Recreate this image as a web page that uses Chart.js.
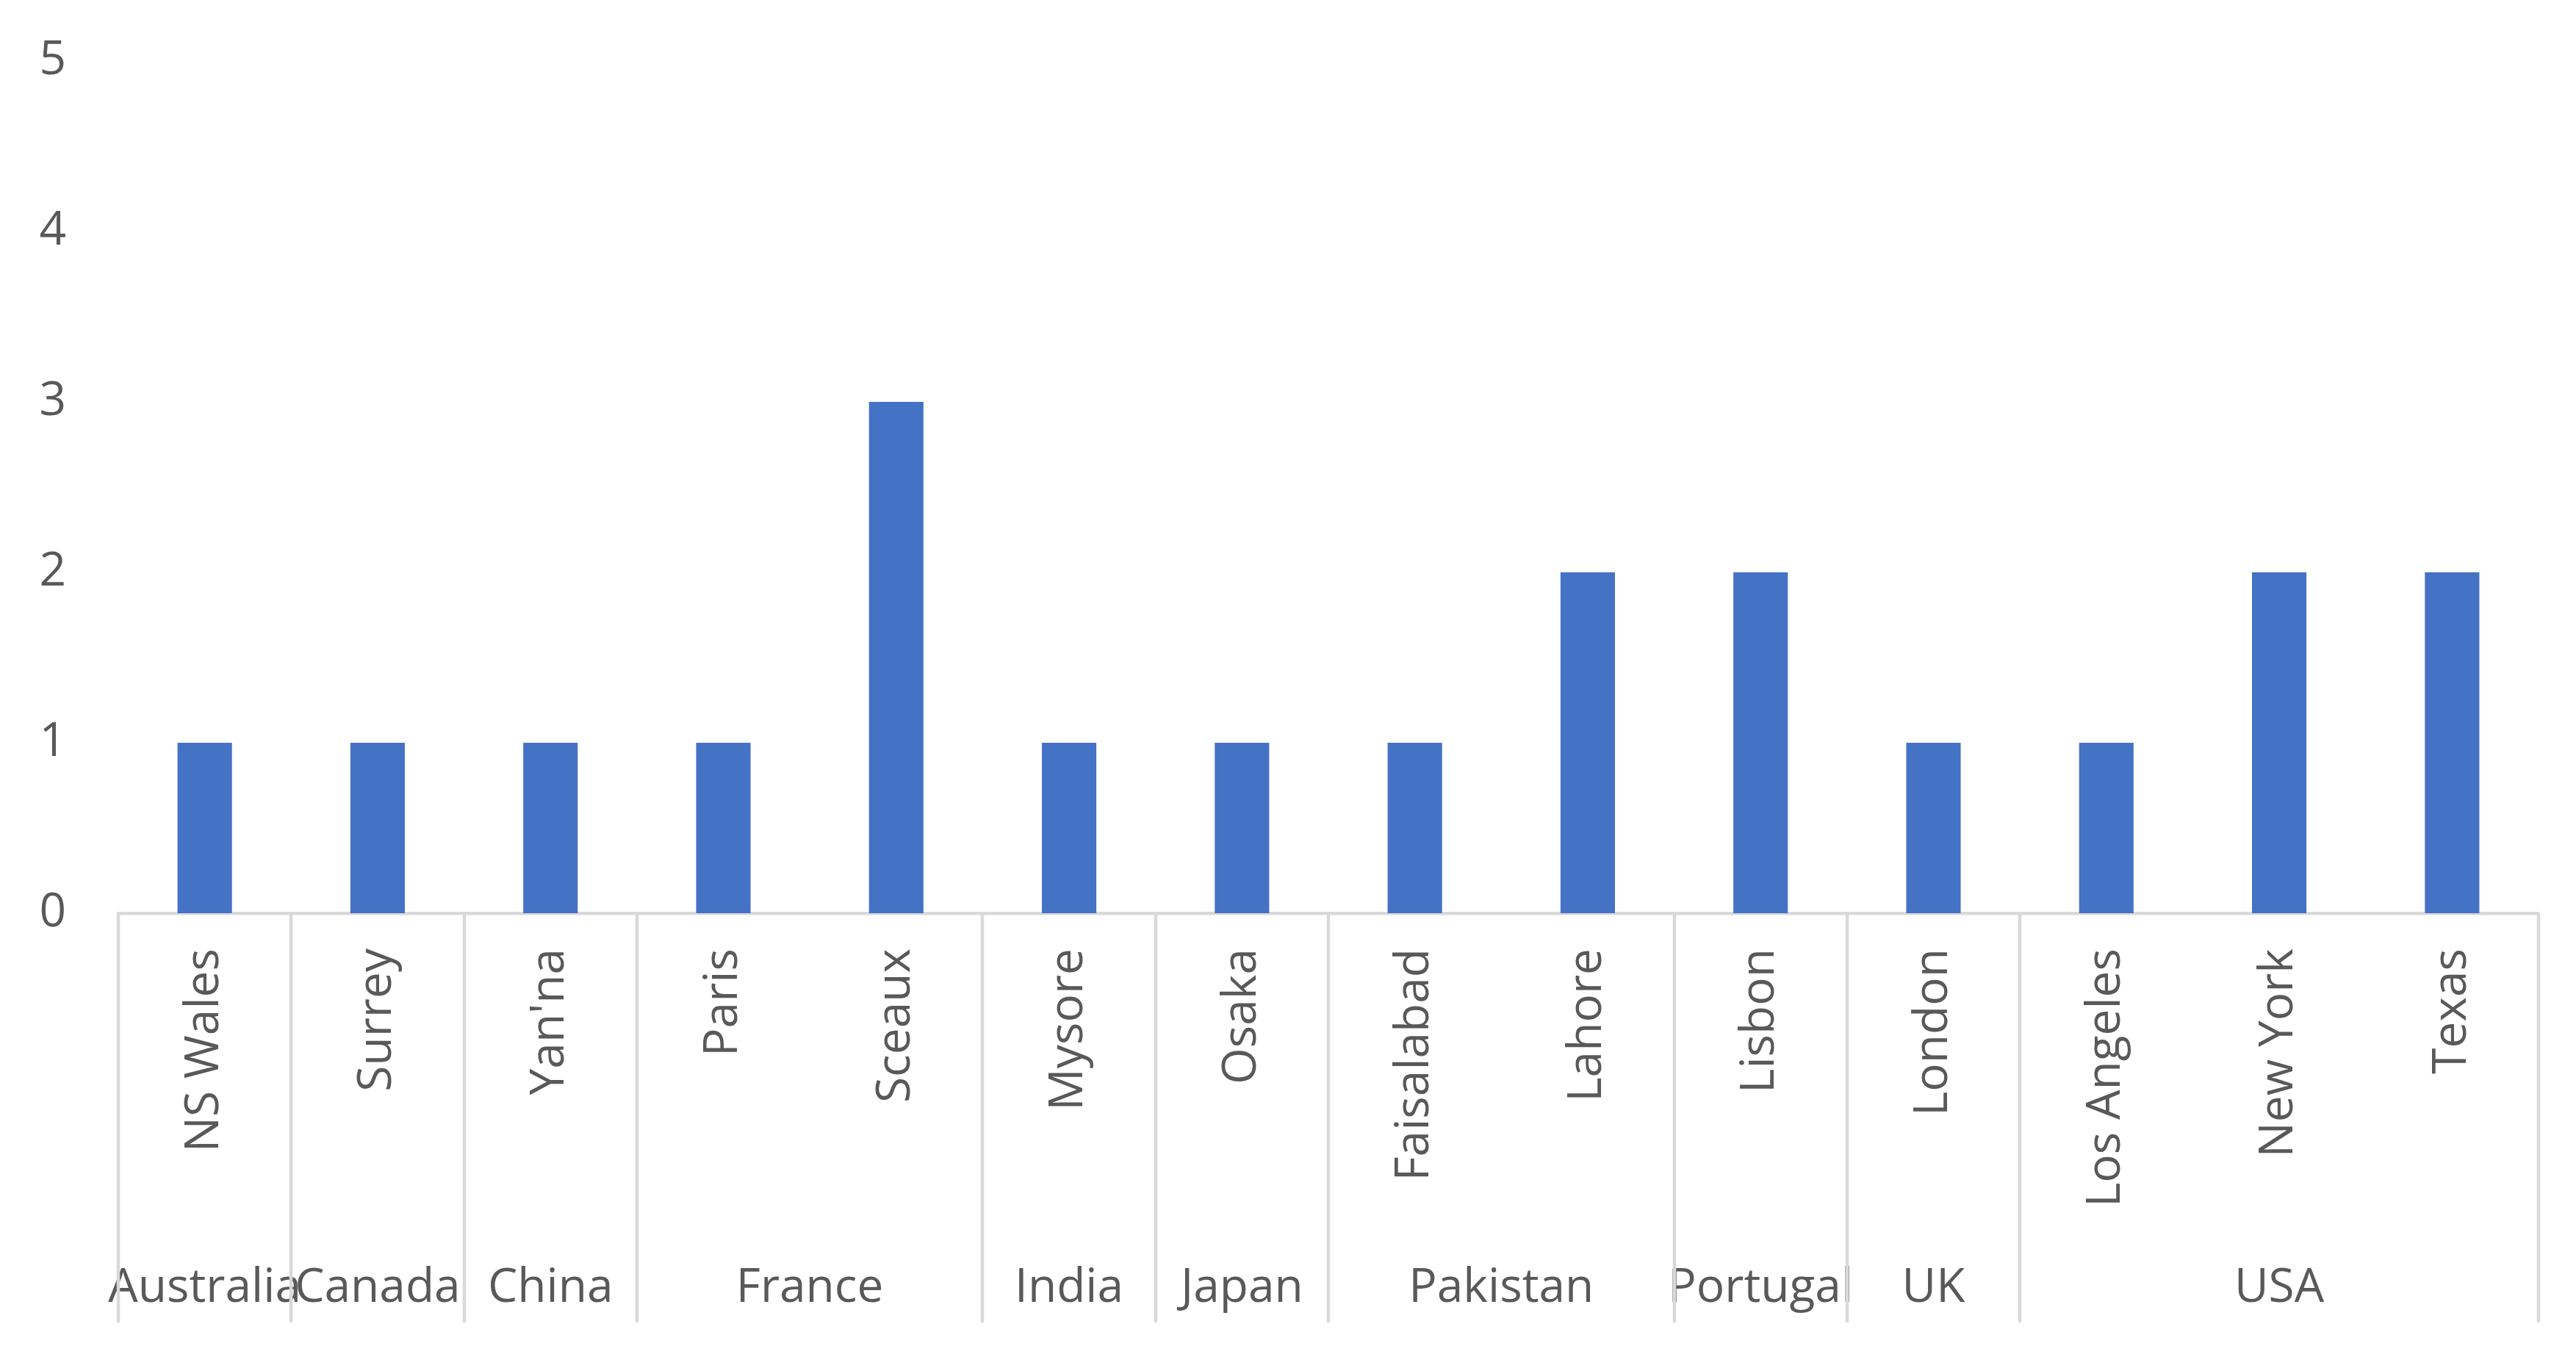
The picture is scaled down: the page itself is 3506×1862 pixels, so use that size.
<!DOCTYPE html>
<html>
<head>
<meta charset="utf-8">
<script src="https://cdn.jsdelivr.net/npm/chart.js@4.4.1/dist/chart.umd.min.js"></script>
<style>
  html, body { margin: 0; padding: 0; background: #ffffff; }
  #wrap { width: 3506px; height: 1862px; position: relative; }
</style>
</head>
<body>
<div id="wrap"><canvas id="c" width="3506" height="1862"></canvas></div>
<script>
const cities = ["NS Wales", "Surrey", "Yan'na", "Paris", "Sceaux", "Mysore", "Osaka", "Faisalabad", "Lahore", "Lisbon", "London", "Los Angeles", "New York", "Texas"];
const values = [1, 1, 1, 1, 3, 1, 1, 1, 2, 2, 1, 1, 2, 2];
const countries = ["Australia", "Canada", "China", "France", "India", "Japan", "Pakistan", "Portugal", "UK", "USA"];
const countryCounts = [1, 1, 1, 2, 1, 1, 2, 1, 1, 3];
const yTicks = [0, 1, 2, 3, 4, 5];

const FONT = "'Open Sans', 'Noto Sans', sans-serif";
const TEXT = '#595959';
const LINE = '#d9d9d9';

const groupPlugin = {
  id: 'groups',
  afterDraw(chart) {
    const xs = chart.scales.x;
    const ctx = chart.ctx;
    const half = (xs.getPixelForValue(1) - xs.getPixelForValue(0)) / 2;
    const top = chart.chartArea.bottom;
    const bottom = 1800;
    ctx.save();
    ctx.strokeStyle = LINE;
    ctx.lineWidth = 4.5;
    let idx = 0;
    const bounds = [xs.getPixelForValue(0) - half];
    countries.forEach((c, i) => {
      const start = idx;
      idx += countryCounts[i];
      const x0 = xs.getPixelForValue(start) - half;
      const x1 = xs.getPixelForValue(idx - 1) + half;
      bounds.push(x1);
      ctx.fillStyle = TEXT;
      ctx.font = '64px ' + FONT;
      ctx.textAlign = 'center';
      ctx.textBaseline = 'middle';
      ctx.fillText(c, (x0 + x1) / 2, 1754);
    });
    bounds.forEach(b => {
      ctx.beginPath();
      ctx.moveTo(Math.round(b), top);
      ctx.lineTo(Math.round(b), bottom);
      ctx.stroke();
    });
    ctx.restore();
  }
};

new Chart(document.getElementById('c'), {
  type: 'bar',
  data: {
    labels: cities,
    datasets: [{
      data: values,
      backgroundColor: '#4472c4',
      borderWidth: 0,
      barPercentage: 0.315,
      categoryPercentage: 1.0
    }]
  },
  options: {
    responsive: false,
    animation: false,
    devicePixelRatio: 1,
    layout: { padding: { left: 0, right: 51, top: 83, bottom: 0 } },
    plugins: { legend: { display: false }, tooltip: { enabled: false } },
    scales: {
      x: {
        grid: { display: false, drawTicks: false, tickLength: 0 },
        border: { display: true, color: LINE, width: 4.5 },
        ticks: {
          color: TEXT,
          font: { size: 64, family: FONT },
          minRotation: 90,
          maxRotation: 90,
          autoSkip: false,
          padding: 48
        },
        afterFit(scale) { scale.height = 619; }
      },
      y: {
        min: 0,
        max: 5,
        afterBuildTicks(scale) { scale.ticks = yTicks.map(v => ({ value: v })); },
        grid: { display: false, drawTicks: false, tickLength: 0 },
        border: { display: false },
        ticks: {
          color: TEXT,
          font: { size: 64, family: FONT },
          padding: 71
        },
        afterFit(scale) {
          scale.width = 161;
          scale.paddingTop = 30;
          scale.paddingBottom = 30;
        }
      }
    }
  },
  plugins: [groupPlugin]
});
</script>
</body>
</html>
